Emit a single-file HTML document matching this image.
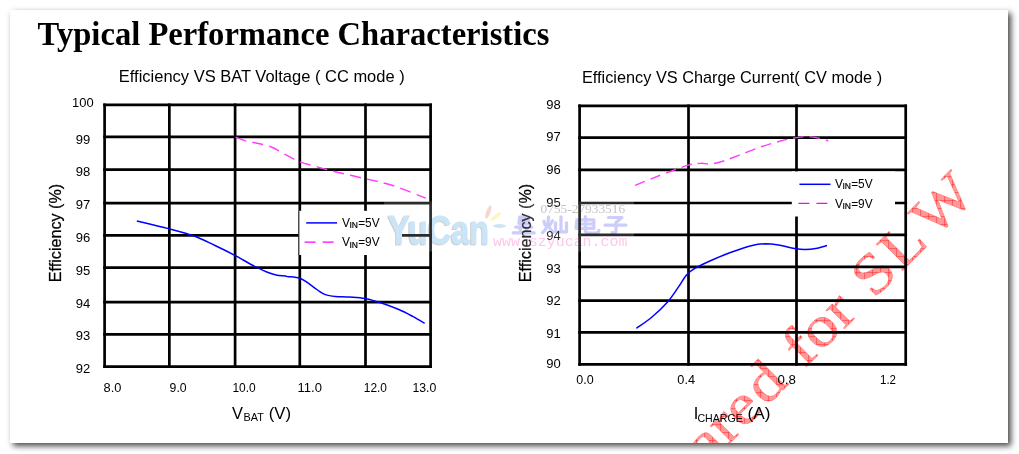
<!DOCTYPE html>
<html><head><meta charset="utf-8"><title>Typical Performance Characteristics</title>
<style>
html,body{margin:0;padding:0;background:#fff;}
body{width:1019px;height:454px;overflow:hidden;position:relative;font-family:"Liberation Sans",sans-serif;}
#page{position:absolute;left:10px;top:10px;width:998px;height:433px;background:#fff;box-shadow:3px 3px 6px rgba(0,0,0,0.72);overflow:hidden;}
svg{position:absolute;left:-10px;top:-10px;}
text{font-family:"Liberation Sans",sans-serif;fill:#000;}
.t12{font-size:12px;}
.t16{font-size:16.4px;}
.ser{font-family:"Liberation Serif",serif;}
</style></head><body>
<div id="page">
<svg width="1019" height="454" viewBox="0 0 1019 454">
<defs>
<pattern id="hatch" width="8" height="8" patternUnits="userSpaceOnUse" patternTransform="scale(0.8658,1) rotate(45) translate(-586.55,-586.55)">
<rect width="8" height="8" fill="#ff9898"/>
<path d="M0 0.6H8M0.6 0V8" stroke="#ff1c1c" stroke-width="0.7" stroke-opacity="0.75"/>
</pattern>
</defs>
<g transform="translate(586.55,586.55) rotate(-45) scale(1.155,1)" style="font-family:'Liberation Serif',serif;font-size:57.2px;" fill="url(#hatch)" stroke="#ff6a6a" stroke-width="0.35"><text x="147.45" y="0" style="font-family:'Liberation Serif',serif;font-size:57.2px;fill:url(#hatch)">are</text><text x="219.74" y="0" style="font-family:'Liberation Serif',serif;font-size:57.2px;fill:url(#hatch)">d</text><text x="266.84" y="0" style="font-family:'Liberation Serif',serif;font-size:57.2px;fill:url(#hatch)">for</text><text x="351.52" y="0" style="font-family:'Liberation Serif',serif;font-size:57.2px;fill:url(#hatch)">S</text><text x="385.28" y="0" style="font-family:'Liberation Serif',serif;font-size:57.2px;fill:url(#hatch)">L</text><text x="424.76" y="0" style="font-family:'Liberation Serif',serif;font-size:57.2px;fill:url(#hatch)">W</text></g>
<text class="ser" x="37.6" y="44.7" style="font-family:'Liberation Serif',serif;font-weight:bold;font-size:34px;" textLength="511.8" lengthAdjust="spacingAndGlyphs">Typical Performance Characteristics</text>
<text class="t16" x="118.8" y="82.1" textLength="285.9" lengthAdjust="spacingAndGlyphs">Efficiency VS BAT Voltage ( CC mode )</text>
<text class="t16" x="582.0" y="82.6" textLength="300.1" lengthAdjust="spacingAndGlyphs">Efficiency VS Charge Current( CV mode )</text>
<g stroke="#000" stroke-width="2.7" fill="none"><line x1="104.60" y1="103.55" x2="104.60" y2="367.95"/><line x1="169.35" y1="103.55" x2="169.35" y2="367.95"/><line x1="235.10" y1="103.55" x2="235.10" y2="367.95"/><line x1="299.80" y1="103.55" x2="299.80" y2="367.95"/><line x1="365.50" y1="103.55" x2="365.50" y2="367.95"/><line x1="430.60" y1="103.55" x2="430.60" y2="367.95"/><line x1="103.25" y1="104.90" x2="431.95" y2="104.90"/><line x1="103.25" y1="136.90" x2="431.95" y2="136.90"/><line x1="103.25" y1="169.60" x2="431.95" y2="169.60"/><line x1="103.25" y1="203.10" x2="431.95" y2="203.10"/><line x1="103.25" y1="235.30" x2="431.95" y2="235.30"/><line x1="103.25" y1="267.60" x2="431.95" y2="267.60"/><line x1="103.25" y1="302.10" x2="431.95" y2="302.10"/><line x1="103.25" y1="334.30" x2="431.95" y2="334.30"/><line x1="103.25" y1="366.60" x2="431.95" y2="366.60"/></g>
<g stroke="#000" stroke-width="2.7" fill="none"><line x1="579.60" y1="104.55" x2="579.60" y2="365.65"/><line x1="688.50" y1="104.55" x2="688.50" y2="365.65"/><line x1="796.50" y1="104.55" x2="796.50" y2="365.65"/><line x1="905.70" y1="104.55" x2="905.70" y2="365.65"/><line x1="578.25" y1="105.90" x2="907.05" y2="105.90"/><line x1="578.25" y1="137.60" x2="907.05" y2="137.60"/><line x1="578.25" y1="169.90" x2="907.05" y2="169.90"/><line x1="578.25" y1="203.00" x2="907.05" y2="203.00"/><line x1="578.25" y1="234.80" x2="907.05" y2="234.80"/><line x1="578.25" y1="266.90" x2="907.05" y2="266.90"/><line x1="578.25" y1="300.60" x2="907.05" y2="300.60"/><line x1="578.25" y1="332.30" x2="907.05" y2="332.30"/><line x1="578.25" y1="364.30" x2="907.05" y2="364.30"/></g>
<rect x="298.8" y="210.8" width="103.2" height="44.2" fill="#fff"/><line x1="298.9" y1="210.8" x2="298.9" y2="255" stroke="#222" stroke-width="1"/>
<rect x="791.8" y="171.4" width="103.2" height="45.1" fill="#fff"/>
<text class="t12" x="82.9" y="107" text-anchor="middle" textLength="21.6" lengthAdjust="spacingAndGlyphs">100</text><text class="t12" x="82.9" y="143.6" text-anchor="middle" textLength="14.5" lengthAdjust="spacingAndGlyphs">99</text><text class="t12" x="82.9" y="175.8" text-anchor="middle" textLength="14.5" lengthAdjust="spacingAndGlyphs">98</text><text class="t12" x="82.9" y="209" text-anchor="middle" textLength="14.5" lengthAdjust="spacingAndGlyphs">97</text><text class="t12" x="82.9" y="241.6" text-anchor="middle" textLength="14.5" lengthAdjust="spacingAndGlyphs">96</text><text class="t12" x="82.9" y="274.7" text-anchor="middle" textLength="14.5" lengthAdjust="spacingAndGlyphs">95</text><text class="t12" x="82.9" y="307.8" text-anchor="middle" textLength="14.5" lengthAdjust="spacingAndGlyphs">94</text><text class="t12" x="82.9" y="339.7" text-anchor="middle" textLength="14.5" lengthAdjust="spacingAndGlyphs">93</text><text class="t12" x="82.9" y="373.1" text-anchor="middle" textLength="14.5" lengthAdjust="spacingAndGlyphs">92</text><text class="t12" x="553.4" y="108.7" text-anchor="middle" textLength="14.5" lengthAdjust="spacingAndGlyphs">98</text><text class="t12" x="553.4" y="141" text-anchor="middle" textLength="14.5" lengthAdjust="spacingAndGlyphs">97</text><text class="t12" x="553.4" y="173.8" text-anchor="middle" textLength="14.5" lengthAdjust="spacingAndGlyphs">96</text><text class="t12" x="553.4" y="206.6" text-anchor="middle" textLength="14.5" lengthAdjust="spacingAndGlyphs">95</text><text class="t12" x="553.4" y="239.7" text-anchor="middle" textLength="14.5" lengthAdjust="spacingAndGlyphs">94</text><text class="t12" x="553.4" y="272.7" text-anchor="middle" textLength="14.5" lengthAdjust="spacingAndGlyphs">93</text><text class="t12" x="553.4" y="305" text-anchor="middle" textLength="14.5" lengthAdjust="spacingAndGlyphs">92</text><text class="t12" x="553.4" y="337.7" text-anchor="middle" textLength="14.5" lengthAdjust="spacingAndGlyphs">91</text><text class="t12" x="553.4" y="368" text-anchor="middle" textLength="14.5" lengthAdjust="spacingAndGlyphs">90</text><text class="t12" x="103.6" y="391.6" textLength="17.8" lengthAdjust="spacingAndGlyphs">8.0</text><text class="t12" x="169.6" y="391.6" textLength="17" lengthAdjust="spacingAndGlyphs">9.0</text><text class="t12" x="232.4" y="391.6" textLength="23.3" lengthAdjust="spacingAndGlyphs">10.0</text><text class="t12" x="297.6" y="391.6" textLength="24.4" lengthAdjust="spacingAndGlyphs">11.0</text><text class="t12" x="363.8" y="391.6" textLength="23.2" lengthAdjust="spacingAndGlyphs">12.0</text><text class="t12" x="412.4" y="391.6" textLength="23.9" lengthAdjust="spacingAndGlyphs">13.0</text><text class="t12" x="576.3" y="384.1" textLength="17.4" lengthAdjust="spacingAndGlyphs">0.0</text><text class="t12" x="677.3" y="384.1" textLength="17.7" lengthAdjust="spacingAndGlyphs">0.4</text><text class="t12" x="777.4" y="384.1" textLength="18.5" lengthAdjust="spacingAndGlyphs">0.8</text><text class="t12" x="880" y="384.1" textLength="16" lengthAdjust="spacingAndGlyphs">1.2</text>
<text class="t16" x="232.1" y="419">V</text><text x="243.6" y="421.4" style="font-size:10.5px" textLength="20.4" lengthAdjust="spacingAndGlyphs">BAT</text><text class="t16" x="268.8" y="419" textLength="22.3" lengthAdjust="spacingAndGlyphs">(V)</text>
<text class="t16" x="693.7" y="419">I</text><text x="697.4" y="421.6" style="font-size:11px" textLength="45.4" lengthAdjust="spacingAndGlyphs">CHARGE</text><text class="t16" x="747.6" y="419" textLength="22.9" lengthAdjust="spacingAndGlyphs">(A)</text>
<text class="t16" transform="translate(60.9,282.2) rotate(-90)" textLength="98.4" stroke="#000" stroke-width="0.25" lengthAdjust="spacingAndGlyphs">Efficiency (%)</text>
<text class="t16" transform="translate(530.9,282.2) rotate(-90)" textLength="98.4" stroke="#000" stroke-width="0.25" lengthAdjust="spacingAndGlyphs">Efficiency (%)</text>
<line x1="306.2" y1="222.9" x2="337.1" y2="222.9" stroke="#0000ff" stroke-width="1.5"/><line x1="304.6" y1="242.2" x2="333.6" y2="242.2" stroke="#ff00ff" stroke-width="1.3" stroke-dasharray="11 7"/><text x="341.90000000000003" y="227.1" style="font-size:12px">V</text><text x="349.5" y="228.4" style="font-size:8.6px" textLength="8.5" lengthAdjust="spacingAndGlyphs" stroke="#000" stroke-width="0.2">IN</text><text x="358.2" y="227.1" style="font-size:12px" textLength="21.4" lengthAdjust="spacingAndGlyphs">=5V</text><text x="341.90000000000003" y="246.4" style="font-size:12px">V</text><text x="349.5" y="247.70000000000002" style="font-size:8.6px" textLength="8.5" lengthAdjust="spacingAndGlyphs" stroke="#000" stroke-width="0.2">IN</text><text x="358.2" y="246.4" style="font-size:12px" textLength="21.4" lengthAdjust="spacingAndGlyphs">=9V</text>
<line x1="799.4" y1="184.3" x2="830.5" y2="184.3" stroke="#0000ff" stroke-width="1.5"/><line x1="798.4" y1="203.4" x2="827.5" y2="203.4" stroke="#ff00ff" stroke-width="1.3" stroke-dasharray="11 7"/><text x="834.9" y="187.9" style="font-size:12px">V</text><text x="842.5" y="189.20000000000002" style="font-size:8.6px" textLength="8.5" lengthAdjust="spacingAndGlyphs" stroke="#000" stroke-width="0.2">IN</text><text x="851.1999999999999" y="187.9" style="font-size:12px" textLength="21.4" lengthAdjust="spacingAndGlyphs">=5V</text><text x="834.9" y="207.5" style="font-size:12px">V</text><text x="842.5" y="208.8" style="font-size:8.6px" textLength="8.5" lengthAdjust="spacingAndGlyphs" stroke="#000" stroke-width="0.2">IN</text><text x="851.1999999999999" y="207.5" style="font-size:12px" textLength="21.4" lengthAdjust="spacingAndGlyphs">=9V</text>
<path d="M136.8 220.9C142.1 222.2 158.7 226.0 168.3 228.6C178.0 231.2 187.0 233.5 194.7 236.3C202.4 239.1 207.9 242.1 214.5 245.2C221.1 248.3 227.8 251.6 234.4 255.1C241.0 258.6 248.7 263.2 254.2 266.1C259.7 269.0 263.7 270.7 267.4 272.2C271.1 273.7 272.9 274.2 276.2 274.9C279.5 275.6 283.3 275.8 287.2 276.4C291.1 276.9 296.3 277.1 299.7 278.2C303.1 279.2 304.6 280.7 307.6 282.7C310.6 284.7 314.5 288.0 317.5 290.0C320.5 292.0 322.4 293.5 325.4 294.6C328.4 295.7 331.3 296.0 335.3 296.4C339.3 296.8 344.2 296.6 349.2 297.0C354.2 297.4 359.5 297.5 365.1 298.6C370.7 299.7 377.3 301.7 382.9 303.5C388.5 305.3 393.8 307.4 398.8 309.5C403.8 311.6 408.4 314.1 412.7 316.4C417.0 318.7 422.6 322.2 424.6 323.4" fill="none" stroke="#0000ff" stroke-width="1.5"/>
<path d="M235.8 137.3C237.6 138.0 242.7 140.1 246.6 141.2C250.5 142.3 255.4 142.7 259.5 143.7C263.6 144.7 267.4 145.4 271.4 147.0C275.4 148.6 278.6 151.1 283.3 153.5C288.0 155.9 294.1 159.5 299.5 161.7C304.9 163.8 310.1 164.8 315.7 166.4C321.3 168.0 324.6 169.1 332.9 171.2C341.2 173.2 355.2 176.3 365.3 178.7C375.4 181.1 383.3 182.6 393.4 185.8C403.5 189.1 420.4 196.1 425.8 198.2" fill="none" stroke="#ff3cff" stroke-width="1.45" stroke-dasharray="11 6.3"/>
<path d="M636.4 328.4C639.0 326.5 646.5 321.7 651.7 317.3C656.9 312.9 663.2 307.0 667.6 302.0C672.0 297.0 675.1 291.8 678.2 287.4C681.3 283.0 683.5 278.6 686.1 275.5C688.7 272.4 690.0 271.3 694.0 268.9C698.0 266.5 703.7 263.8 709.9 261.0C716.1 258.2 724.0 254.9 731.1 252.3C738.2 249.7 746.5 246.8 752.2 245.4C757.9 244.0 761.0 243.9 765.4 243.8C769.8 243.8 773.8 244.3 778.6 245.1C783.5 245.9 790.1 247.8 794.5 248.6C798.9 249.3 801.6 249.6 805.1 249.6C808.6 249.6 812.1 249.3 815.7 248.6C819.4 247.9 825.1 246.1 827.0 245.6" fill="none" stroke="#0000ff" stroke-width="1.5"/>
<path d="M635.1 185.4C638.0 184.2 645.9 180.9 652.4 178.3C658.9 175.8 667.9 172.3 674.0 170.1C680.1 167.9 684.6 166.1 689.1 164.9C693.6 163.8 697.4 163.3 701.0 163.2C704.6 163.0 706.9 164.4 710.7 164.0C714.5 163.6 718.6 162.6 723.6 161.0C728.6 159.4 734.8 156.8 740.9 154.5C747.0 152.2 753.8 149.2 760.3 147.0C766.8 144.8 774.0 142.7 779.8 141.2C785.6 139.7 790.6 138.6 794.9 137.9C799.2 137.2 802.1 136.8 805.7 136.8C809.3 136.8 812.7 137.0 816.5 137.7C820.3 138.3 826.3 140.2 828.3 140.7" fill="none" stroke="#ff3cff" stroke-width="1.45" stroke-dasharray="10.6 6"/>
<g id="wm" style="mix-blend-mode:multiply">
<text x="387.0" y="245.0" textLength="101" lengthAdjust="spacingAndGlyphs" style="font-family:'Liberation Sans',sans-serif;font-weight:bold;font-size:40px;fill:#a0a0a0;fill-opacity:0.5;stroke:#a0a0a0;stroke-opacity:0.5;stroke-width:0.9px">YuCan</text>
<text x="388.2" y="243.9" textLength="101" lengthAdjust="spacingAndGlyphs" style="font-family:'Liberation Sans',sans-serif;font-weight:bold;font-size:40px;fill:#c0e0f6;stroke:#c0e0f6;stroke-width:0.9px">YuCan</text>
<ellipse cx="488.3" cy="212.2" rx="7" ry="2.1" transform="rotate(-70 488.3 212.2)" fill="#f7c3b4" fill-opacity="0.85"/>
<ellipse cx="495.6" cy="216.8" rx="6.8" ry="1.9" transform="rotate(-38 495.6 216.8)" fill="#fbf3a8" fill-opacity="0.85"/>
<ellipse cx="499.5" cy="226" rx="6.4" ry="1.9" fill="#bcdcf2" fill-opacity="0.9"/>
<text x="540.6" y="212.8" textLength="84.5" lengthAdjust="spacingAndGlyphs" style="font-family:'Liberation Serif',serif;font-size:12.6px;fill:#8c8c8c;fill-opacity:0.62">0755-27933516</text>
<text x="493" y="246.3" textLength="134.4" lengthAdjust="spacingAndGlyphs" style="font-family:'Liberation Mono',monospace;font-size:15.5px;fill:#ff8fd8;fill-opacity:0.62">www.szyucan.com</text>
<g fill="none" stroke="#bebef7" stroke-opacity="0.92" stroke-width="3.2" stroke-linecap="round" stroke-linejoin="round">
<!-- 昱 -->
<g transform="translate(512.7,216.3)">
<path d="M7 0.8H16V7H6.2ZM6.8 3.9H15.8M9.5 8.6L10.5 9.8M3 10.8H19M7.2 12L8 15.4M14.6 11.8L13 15.4M0.5 16.6H21.5"/>
</g>
<!-- 灿 -->
<g transform="translate(542,216.3)">
<path d="M2 5L3 8.5M10.5 4.5L8.5 8M6.5 0.5C6.5 8 5 13 0.5 16.5M6.5 9C7.5 12 9 14.5 11 16M19 0.5V15.5M13.5 6.5V15.5H24.5V6.5"/>
</g>
<!-- 电 -->
<g transform="translate(573.9,216.3)">
<path d="M3 3.5H20V12H2.2ZM2.6 7.7H19.8M11.5 0.3V14.5C11.5 16.5 13 16.8 16 16.8H22.5C24.5 16.8 24.8 15.5 25 14"/>
</g>
<!-- 子 -->
<g transform="translate(604.5,216.3)">
<path d="M4 1.2H17.5L11.5 6.2V15C11.5 16.6 10 16.8 7.5 16.4M0.5 8.8H21.5"/>
</g>
</g>
</g>
<rect x="384" y="201.5" width="250" height="50" fill="#fff" fill-opacity="0.17"/>
</svg></div></body></html>
